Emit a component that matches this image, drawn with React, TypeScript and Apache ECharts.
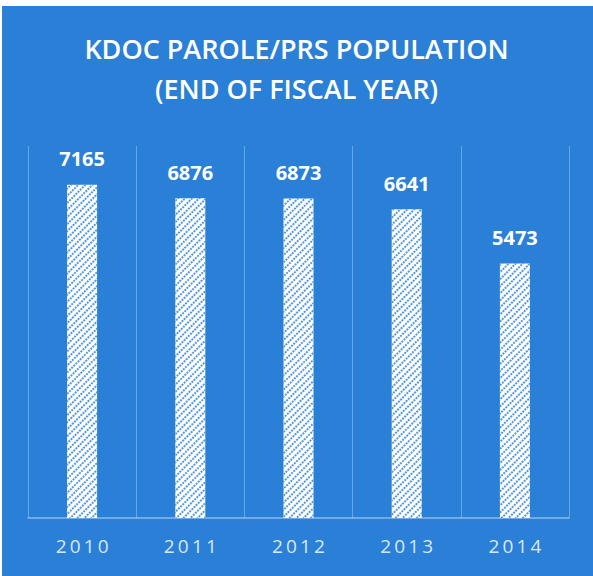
import React, { useEffect, useRef } from "react";
import * as echarts from "echarts";

const titleLines = ["KDOC PAROLE/PRS POPULATION", "(END OF FISCAL YEAR)"];
const categories = ["2010", "2011", "2012", "2013", "2014"];
const population = [7165, 6876, 6873, 6641, 5473];
const yMax = 8000;

const BLUE = "#2a7fd7";

export default function App() {
  const ref = useRef<HTMLDivElement>(null);
  useEffect(() => {
    if (!ref.current) return;
    const chart = echarts.init(ref.current, undefined, { renderer: "svg" });
    chart.setOption({
      animation: false,
      backgroundColor: "#ffffff",
      graphic: [
        {
          type: "rect",
          z: -10,
          shape: { x: 2, y: 6, width: 591, height: 570 },
          style: { fill: BLUE },
          silent: true,
        },
      ],
      title: {
        text: titleLines.join("\n"),
        left: "center",
        top: 23,
        textStyle: {
          color: "#ffffff",
          fontFamily: "Open Sans",
          fontWeight: 600,
          fontSize: 27,
          lineHeight: 40,
        },
      },
      grid: { left: 28, right: 24, top: 146, bottom: 58 },
      xAxis: {
        type: "category",
        data: categories,
        axisLine: { show: true, lineStyle: { color: "rgba(255,255,255,0.45)", width: 1.5 } },
        axisTick: { show: false },
        splitLine: { show: true, lineStyle: { color: "rgba(255,255,255,0.3)", width: 1 } },
        axisLabel: {
          color: "rgba(240,246,252,0.9)",
          fontFamily: "Open Sans",
          fontSize: 19,
          margin: 18,
          formatter: (v: string) => v.split("").join("\u2009"),
        },
      },
      yAxis: {
        type: "value",
        min: 0,
        max: yMax,
        show: false,
        splitLine: { show: false },
      },
      series: [
        {
          type: "bar",
          data: population,
          barWidth: 30,
          itemStyle: {
            color: "#ffffff",
            decal: {
              symbol: "rect",
              color: "rgba(42,127,215,0.8)",
              dashArrayX: [2, 1],
              dashArrayY: [1.5, 3],
              rotation: -Math.PI / 4,
            },
          },
          label: {
            show: true,
            position: "top",
            distance: 16,
            color: "#ffffff",
            fontFamily: "Open Sans",
            fontWeight: "bold",
            fontSize: 20,
          },
        },
      ],
    });
    return () => chart.dispose();
  }, []);
  return (
    <div
      ref={ref}
      style={{ position: "fixed", left: 0, top: 0, width: 593, height: 576 }}
    />
  );
}
